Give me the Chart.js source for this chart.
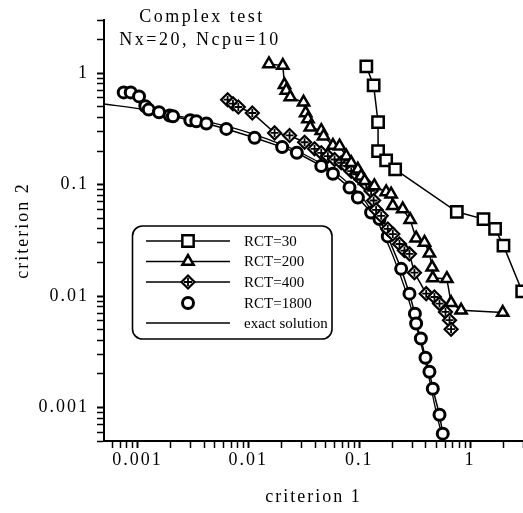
<!DOCTYPE html>
<html>
<head>
<meta charset="utf-8">
<script src="https://cdn.jsdelivr.net/npm/chart.js@4.4.1/dist/chart.umd.min.js"></script>
<style>
  html, body { margin: 0; padding: 0; background: #fff; }
  canvas { display: block; }
</style>
</head>
<body>
<canvas id="c" width="523" height="513"></canvas>
<script>
// Pareto fronts, criterion 1 vs criterion 2 (log-log).
const rct30X = [0.116, 0.135, 0.148, 0.148, 0.175, 0.211, 0.759, 1.32, 1.68, 2.0, 2.95];
const rct30Y = [1.15, 0.776, 0.363, 0.2, 0.165, 0.137, 0.057, 0.049, 0.040, 0.0283, 0.011];

const rct200X = [0.01535, 0.0205, 0.0212, 0.022, 0.0239, 0.0315, 0.0329, 0.0345, 0.0362, 0.0455, 0.0477,
                 0.058, 0.0665, 0.0764, 0.0848, 0.0973, 0.104, 0.112, 0.137, 0.175, 0.194, 0.201, 0.247,
                 0.288, 0.326, 0.388, 0.43, 0.455, 0.461, 0.617, 0.674, 0.83, 1.97];
const rct200Y = [1.21, 1.17, 0.787, 0.70, 0.61, 0.547, 0.44, 0.388, 0.327, 0.305, 0.272,
                 0.224, 0.221, 0.18, 0.157, 0.137, 0.119, 0.108, 0.0973, 0.086, 0.082, 0.0645, 0.0603,
                 0.0484, 0.033, 0.0303, 0.0242, 0.0181, 0.0145, 0.0143, 0.0087, 0.00745, 0.0071];

const rct400X = [0.00651, 0.00728, 0.00813, 0.01087, 0.01726, 0.02356, 0.0322, 0.0396, 0.0455, 0.0522, 0.060,
                 0.0689, 0.0764, 0.0848, 0.094, 0.104, 0.1156, 0.128, 0.135, 0.142, 0.158, 0.181, 0.201, 0.231,
                 0.256, 0.284, 0.315, 0.402, 0.477, 0.53, 0.60, 0.652, 0.674];
const rct400Y = [0.578, 0.532, 0.497, 0.439, 0.291, 0.276, 0.240, 0.2095, 0.193, 0.180, 0.168,
                 0.157, 0.147, 0.132, 0.1236, 0.1116, 0.1007, 0.0878, 0.072, 0.0594, 0.0525, 0.040, 0.036, 0.0293,
                 0.0256, 0.0239, 0.0162, 0.0105, 0.0098, 0.00855, 0.0072, 0.00607, 0.00504];

const rct1800X = [0.000753, 0.000871, 0.001035, 0.00118, 0.001265, 0.001567, 0.001955, 0.002094, 0.0030, 0.0034,
                  0.00419, 0.00634, 0.0114, 0.0202, 0.0274, 0.0455, 0.058, 0.0818, 0.0973, 0.128, 0.1525,
                  0.181, 0.239, 0.284, 0.318, 0.326, 0.36, 0.396, 0.43, 0.461, 0.53, 0.567];
const rct1800Y = [0.672, 0.672, 0.619, 0.504, 0.471, 0.446, 0.416, 0.410, 0.378, 0.370,
                  0.353, 0.316, 0.263, 0.217, 0.193, 0.147, 0.125, 0.094, 0.0766, 0.0562, 0.049,
                  0.0343, 0.01754, 0.0105, 0.00695, 0.00566, 0.00416, 0.00279, 0.00209, 0.00147, 0.00086, 0.000582];

const exactX = [0.000501, 0.001014, 0.001824, 0.00365, 0.00728, 0.0145, 0.029, 0.058, 0.0877, 0.1156,
                0.1525, 0.201, 0.265, 0.326, 0.402, 0.494, 0.567];
const exactY = [0.529, 0.481, 0.430, 0.378, 0.323, 0.258, 0.196, 0.1324, 0.094, 0.069,
                0.0428, 0.0231, 0.01086, 0.00547, 0.0024, 0.00092, 0.00052];

const seriesNames = ['RCT=30', 'RCT=200', 'RCT=400', 'RCT=1800', 'exact solution'];
const legendHasLine = [true, true, true, false, true];

// axis ticks (minor ones get no label)
const xTickVals = [0.0006, 0.0007, 0.0008, 0.0009,
                   0.001, 0.002, 0.003, 0.004, 0.005, 0.006, 0.007, 0.008, 0.009,
                   0.01, 0.02, 0.03, 0.04, 0.05, 0.06, 0.07, 0.08, 0.09,
                   0.1, 0.2, 0.3, 0.4, 0.5, 0.6, 0.7, 0.8, 0.9,
                   1, 2, 3];
const yTickVals = [0.0005, 0.0006, 0.0007, 0.0008, 0.0009,
                   0.001, 0.002, 0.003, 0.004, 0.005, 0.006, 0.007, 0.008, 0.009,
                   0.01, 0.02, 0.03, 0.04, 0.05, 0.06, 0.07, 0.08, 0.09,
                   0.1, 0.2, 0.3, 0.4, 0.5, 0.6, 0.7, 0.8, 0.9,
                   1, 2, 3];
const majorVals = [0.001, 0.01, 0.1, 1];
const majorLabels = ['0.001', '0.01', '0.1', '1'];

const titleLines = ['Complex test', 'Nx=20, Ncpu=10'];

const SERIF = '"Liberation Serif", "Times New Roman", serif';
Chart.defaults.font.family = SERIF;
Chart.defaults.color = '#000';

const pts = (xs, ys) => xs.map((x, i) => ({ x, y: ys[i] }));

const base = {
    showLine: true,
    borderColor: '#000',
    backgroundColor: '#fff',
    borderWidth: 1.5,
    pointBorderColor: '#000',
    pointBackgroundColor: '#fff',
    pointBorderWidth: 2.5,
    tension: 0,
};

const datasets = [
    { ...base, label: seriesNames[0], data: pts(rct30X, rct30Y), pointStyle: 'rect', pointRadius: 8 },
    { ...base, label: seriesNames[1], data: pts(rct200X, rct200Y), pointStyle: 'triangle', pointRadius: 6.5 },
    // RCT=400: diamond, plus a cross drawn over it
    { ...base, label: seriesNames[2], data: pts(rct400X, rct400Y), pointStyle: 'cross', pointRadius: 4, pointBorderWidth: 1.8, showLine: false },
    { ...base, label: seriesNames[2], data: pts(rct400X, rct400Y), pointStyle: 'rectRot', pointRadius: 6.5, pointBorderWidth: 2.2 },
    { ...base, label: seriesNames[3], data: pts(rct1800X, rct1800Y), pointStyle: 'circle', pointRadius: 5.5, pointBorderWidth: 3 },
    { ...base, label: seriesNames[4], data: pts(exactX, exactY), pointRadius: 0, borderWidth: 1.3, tension: 0.4 },
];
// which datasets make each legend row (marker layers in drawing order)
const legendRows = [[0], [1], [3, 2], [4], [5]];

const spacing = {
    id: 'spacing',
    beforeDraw(chart) { chart.ctx.letterSpacing = '2px'; },
};

// title lines and boxed legend drawn inside the plot, as in the figure
const overlay = {
    id: 'overlay',
    afterDraw(chart) {
        const ctx = chart.ctx;
        ctx.save();
        ctx.fillStyle = '#000';
        ctx.textAlign = 'center';
        ctx.textBaseline = 'middle';
        ctx.letterSpacing = '2.5px';
        ctx.font = '18px ' + SERIF;
        ctx.fillText(titleLines[0], 202, 17);
        ctx.fillText(titleLines[1], 200, 40);

        // legend box
        ctx.letterSpacing = '0px';
        ctx.lineWidth = 1.6;
        ctx.strokeStyle = '#000';
        ctx.fillStyle = '#fff';
        ctx.beginPath();
        ctx.roundRect(132.5, 226, 199.5, 113, 10);
        ctx.fill();
        ctx.stroke();

        const rowY = [241, 261.5, 282, 303, 323];
        ctx.font = '15px ' + SERIF;
        ctx.textAlign = 'left';
        legendRows.forEach((idx, r) => {
            const y = rowY[r];
            if (legendHasLine[r]) {
                ctx.lineWidth = 1.5;
                ctx.strokeStyle = '#000';
                ctx.beginPath();
                ctx.moveTo(146, y); ctx.lineTo(230, y);
                ctx.stroke();
            }
            idx.forEach(i => {
                const ds = chart.data.datasets[i];
                if (!(ds.pointRadius > 0)) return;
                ctx.lineWidth = ds.pointBorderWidth;
                ctx.strokeStyle = '#000';
                ctx.fillStyle = '#fff';
                Chart.helpers.drawPoint(ctx, {
                    pointStyle: ds.pointStyle, radius: ds.pointRadius,
                    rotation: 0, borderWidth: ds.pointBorderWidth,
                }, 188, y);
            });
            ctx.fillStyle = '#000';
            ctx.fillText(seriesNames[r], 244, y + 1);
        });
        ctx.restore();
    },
};

const tickLabel = (value) => {
    const i = majorVals.indexOf(value);
    return i >= 0 ? majorLabels[i] : '';
};
const tickW = (c) => (majorVals.includes(c.tick && c.tick.value) ? 2 : 1.5);

new Chart(document.getElementById('c'), {
    type: 'scatter',
    data: { datasets },
    plugins: [spacing, overlay],
    options: {
        responsive: false,
        animation: false,
        events: [],
        layout: { autoPadding: false, padding: { top: 20, left: 0, right: 0, bottom: 0 } },
        plugins: { legend: { display: false }, tooltip: { enabled: false } },
        scales: {
            x: {
                type: 'logarithmic',
                min: 0.0005, max: 3,
                afterBuildTicks: (s) => { s.ticks = xTickVals.map(v => ({ value: v, major: majorVals.includes(v) })); },
                afterFit: (s) => { s.height = 72; s.paddingLeft = 0; s.paddingRight = 0; },
                border: { color: '#000', width: 2 },
                grid: { drawOnChartArea: false, tickLength: 7, tickColor: '#000', tickWidth: tickW },
                ticks: {
                    autoSkip: false, maxRotation: 0, padding: 1,
                    font: { size: 18 }, color: '#000',
                    callback: tickLabel,
                },
                title: { display: true, text: 'criterion 1', font: { size: 18 }, color: '#000', padding: { top: 0, bottom: 5 } },
            },
            y: {
                type: 'logarithmic',
                min: 0.0005, max: 3,
                afterBuildTicks: (s) => { s.ticks = yTickVals.map(v => ({ value: v, major: majorVals.includes(v) })); },
                afterFit: (s) => { s.width = 104; s.paddingTop = 0; s.paddingBottom = 0; },
                border: { color: '#000', width: 2 },
                grid: { drawOnChartArea: false, tickLength: 7, tickColor: '#000', tickWidth: tickW },
                ticks: {
                    autoSkip: false, padding: 8,
                    font: { size: 18 }, color: '#000',
                    callback: tickLabel,
                },
                title: { display: true, text: 'criterion 2', font: { size: 18 }, color: '#000', padding: { top: 12, bottom: 0 } },
            },
        },
    },
});
</script>
</body>
</html>
